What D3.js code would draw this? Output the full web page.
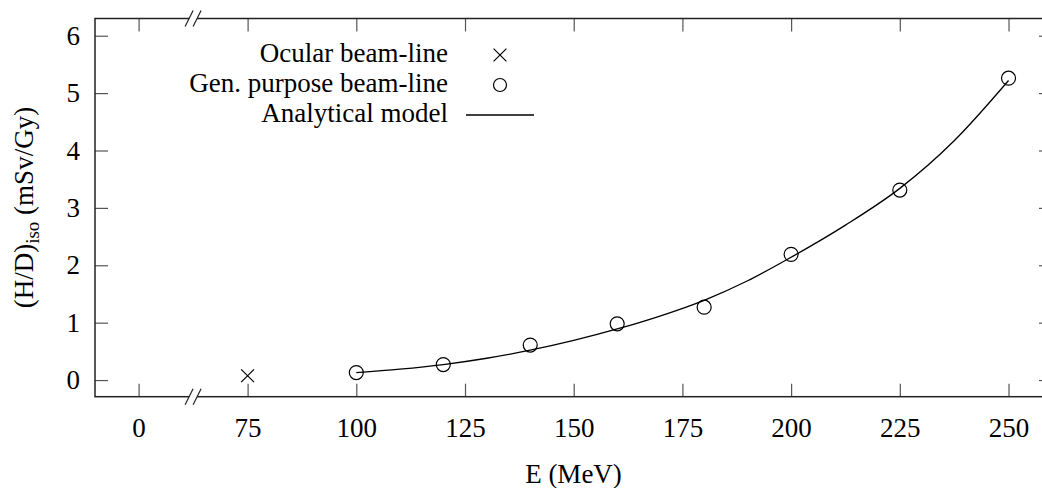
<!DOCTYPE html>
<html>
<head>
<meta charset="utf-8">
<script src="https://cdn.jsdelivr.net/npm/d3@7"></script>
<style>
  body { margin: 0; background: #fff; }
  svg { display: block; font-family: "Liberation Serif", "Times New Roman", serif; }
</style>
</head>
<body>
<svg id="chart" width="1042" height="488"></svg>
<script>
// tick values
var xTicks = [0, 75, 100, 125, 150, 175, 200, 225, 250];
var yTicks = [0, 1, 2, 3, 4, 5, 6];

// measured data
var ocularE = [75];
var ocularH = [0.075];
var genE = [100, 120, 140, 160, 180, 200, 225, 250];
var genH = [0.13, 0.27, 0.61, 0.98, 1.27, 2.19, 3.31, 5.26];

// analytical model
var modelE = [100, 110, 120, 130, 140, 150, 160, 170, 180, 190, 200, 212.5, 225, 237.5, 250];
var modelH = [0.13, 0.19, 0.27, 0.38, 0.52, 0.69, 0.89, 1.12, 1.39, 1.73, 2.14, 2.70, 3.34, 4.17, 5.22];

var legendLabels = ['Ocular beam-line', 'Gen. purpose beam-line', 'Analytical model'];

var plotLeft = 95, plotRight = 1052, plotTop = 18.5, plotBottom = 396.7;
var tickLen = 13;
var fontFamily = '"Liberation Serif", "Times New Roman", serif';
var fontSize = 27;

var svg = d3.select('#chart');

// broken axis: the 0..75 stretch is squeezed into the gap
var x = d3.scaleLinear()
  .domain([-10, 0, 75, 260])
  .range([plotLeft, plotLeft + 43.6, plotLeft + 152.6, plotRight]);
var y = d3.scaleLinear().domain([-0.29, 6.3]).range([plotBottom, plotTop]);

function styleAxis(g) {
  g.attr('font-family', fontFamily).attr('font-size', fontSize);
  g.select('.domain').remove();
  g.selectAll('.tick line').attr('stroke', '#555').attr('stroke-width', 1.2);
  g.selectAll('.tick text').attr('fill', '#000');
}

svg.append('g').attr('transform', 'translate(0,' + plotBottom + ')')
  .call(d3.axisBottom(x).tickValues(xTicks).tickFormat(d3.format('d')).tickSize(-tickLen).tickPadding(20.8))
  .call(styleAxis);
svg.append('g').attr('transform', 'translate(0,' + plotTop + ')')
  .call(d3.axisTop(x).tickValues(xTicks).tickSize(-tickLen).tickFormat(''))
  .call(styleAxis);
svg.append('g').attr('transform', 'translate(' + plotLeft + ',0)')
  .call(d3.axisLeft(y).tickValues(yTicks).tickFormat(d3.format('d')).tickSize(-tickLen).tickPadding(15))
  .call(styleAxis);
svg.append('g').attr('transform', 'translate(' + plotRight + ',0)')
  .call(d3.axisRight(y).tickValues(yTicks).tickSize(-tickLen).tickFormat(''))
  .call(styleAxis);

// frame
svg.append('rect')
  .attr('x', plotLeft).attr('y', plotTop)
  .attr('width', plotRight - plotLeft).attr('height', plotBottom - plotTop)
  .attr('fill', 'none').attr('stroke', '#222').attr('stroke-width', 1.5);

// axis break marks
var breakX = (x(0) + x(75)) / 2;
[plotTop, plotBottom].forEach(function (by) {
  svg.append('polygon')
    .attr('points', [
      [breakX - 8, by + 8], [breakX, by - 8],
      [breakX + 8, by - 8], [breakX, by + 8]
    ].map(function (p) { return p.join(','); }).join(' '))
    .attr('fill', '#fff');
  [-4, 4].forEach(function (off) {
    svg.append('line')
      .attr('x1', breakX + off - 4).attr('y1', by + 8)
      .attr('x2', breakX + off + 4).attr('y2', by - 8)
      .attr('stroke', '#222').attr('stroke-width', 1.2);
  });
});

// model curve
var modelData = modelE.map(function (e, i) { return [e, modelH[i]]; });
var line = d3.line()
  .x(function (d) { return x(d[0]); })
  .y(function (d) { return y(d[1]); })
  .curve(d3.curveMonotoneX);
svg.append('path').datum(modelData)
  .attr('d', line)
  .attr('fill', 'none').attr('stroke', '#000').attr('stroke-width', 1.3);

// general purpose beam-line points
svg.selectAll('circle.gen')
  .data(genE.map(function (e, i) { return [e, genH[i]]; }))
  .enter().append('circle')
  .attr('class', 'gen')
  .attr('cx', function (d) { return x(d[0]); })
  .attr('cy', function (d) { return y(d[1]); })
  .attr('r', 7)
  .attr('fill', 'none').attr('stroke', '#000').attr('stroke-width', 1.2);

// ocular beam-line points
var cross = d3.symbol().type(d3.symbolX).size(110);
svg.selectAll('path.ocular')
  .data(ocularE.map(function (e, i) { return [e, ocularH[i]]; }))
  .enter().append('path')
  .attr('class', 'ocular')
  .attr('transform', function (d) { return 'translate(' + x(d[0]) + ',' + y(d[1]) + ')'; })
  .attr('d', cross)
  .attr('fill', 'none').attr('stroke', '#000').attr('stroke-width', 1.2);

// legend
var legend = svg.append('g');
legendLabels.forEach(function (label, i) {
  var ly = 55 + i * 30;
  legend.append('text')
    .attr('x', 448).attr('y', ly + 7)
    .attr('text-anchor', 'end')
    .style('font-size', fontSize + 'px')
    .text(label);
  if (i === 0) {
    legend.append('path').attr('transform', 'translate(500,' + ly + ')')
      .attr('d', cross).attr('fill', 'none').attr('stroke', '#000').attr('stroke-width', 1.2);
  } else if (i === 1) {
    legend.append('circle').attr('cx', 500).attr('cy', ly).attr('r', 6.5)
      .attr('fill', 'none').attr('stroke', '#000').attr('stroke-width', 1.2);
  } else {
    legend.append('line').attr('x1', 466).attr('x2', 534).attr('y1', ly).attr('y2', ly)
      .attr('stroke', '#000').attr('stroke-width', 1.3);
  }
});

// axis titles
svg.append('text')
  .attr('x', (plotLeft + plotRight) / 2).attr('y', 483)
  .attr('text-anchor', 'middle')
  .style('font-size', fontSize + 'px')
  .text('E (MeV)');

var yTitle = svg.append('text')
  .attr('transform', 'translate(33,' + ((plotTop + plotBottom) / 2) + ') rotate(-90)')
  .attr('text-anchor', 'middle')
  .style('font-size', fontSize + 'px');
yTitle.append('tspan').text('(H/D)');
yTitle.append('tspan').attr('dy', 6).style('font-size', '19px').text('iso');
yTitle.append('tspan').attr('dy', -6).text(' (mSv/Gy)');
</script>
</body>
</html>
